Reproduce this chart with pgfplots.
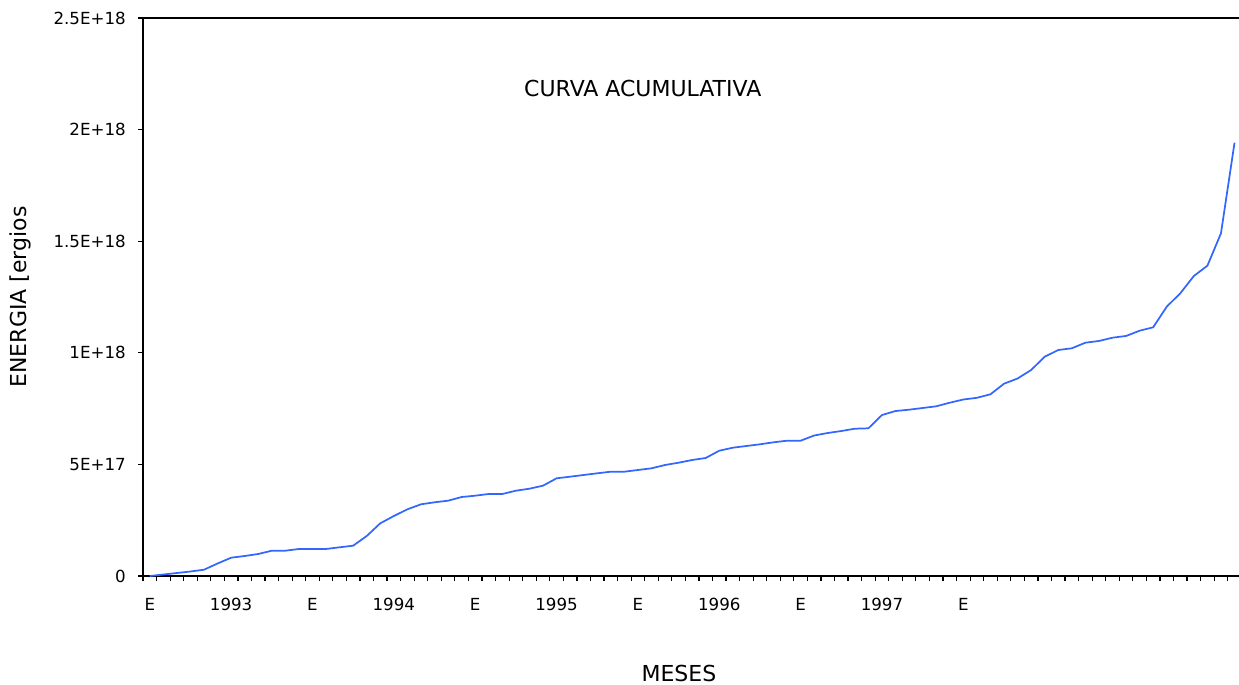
\documentclass[border=0pt]{standalone}
\usepackage{pgfplots}
\pgfplotsset{compat=1.18}
\usepackage{pgfplotstable}
\usepackage{fontspec}
\setmainfont{DejaVu Sans}
\definecolor{curve}{RGB}{51,102,255}
% energy in units of 1E+17 ergios, one value per month
\pgfplotstableread{
i v
0 0
1 0.067
2 0.134
3 0.202
4 0.282
5 0.560
6 0.820
7 0.896
8 0.986
9 1.134
10 1.134
11 1.210
12 1.210
13 1.210
14 1.286
15 1.358
16 1.792
17 2.361
18 2.688
19 2.988
20 3.212
21 3.302
22 3.374
23 3.539
24 3.598
25 3.674
26 3.674
27 3.822
28 3.911
29 4.046
30 4.377
31 4.449
32 4.525
33 4.601
34 4.673
35 4.673
36 4.749
37 4.825
38 4.973
39 5.076
40 5.197
41 5.287
42 5.614
43 5.748
44 5.824
45 5.901
46 5.990
47 6.062
48 6.062
49 6.295
50 6.407
51 6.496
52 6.599
53 6.617
54 7.213
55 7.392
56 7.451
57 7.527
58 7.603
59 7.764
60 7.908
61 7.984
62 8.141
63 8.616
64 8.849
65 9.229
66 9.825
67 10.125
68 10.202
69 10.453
70 10.529
71 10.677
72 10.753
73 10.990
74 11.142
75 12.066
76 12.666
77 13.441
78 13.903
79 15.354
80 19.413
}\datatable
\begin{document}
\begin{tikzpicture}
\useasboundingbox (-107.25pt,-81.75pt) rectangle (822pt,432pt);
\begin{axis}[
  at={(0,0)}, anchor=south west, scale only axis,
  width=822pt, height=418.5pt,
  xmin=-0.5, xmax=80.33, ymin=0, ymax=25,
  axis lines*=left,
  axis line style={line width=1.2pt},
  tick align=outside,
  tick style={line width=0.9pt, black},
  xtick={-0.5,0.5,...,80.5},
  xticklabels={},
  major tick length=3.4pt,
  extra x ticks={0,6,12,18,24,30,36,42,48,54,60},
  extra x tick labels={E,1993,E,1994,E,1995,E,1996,E,1997,E},
  extra x tick style={major tick length=0pt, xticklabel style={yshift=-13pt}},
  ytick={0,5,10,15,20,25},
  yticklabels={0,5E+17,1E+18,1.5E+18,2E+18,2.5E+18},
  yticklabel style={xshift=-6pt},
  tick label style={font=\fontsize{12.5}{14}\selectfont},
  xlabel={MESES},
  ylabel={ENERGIA [ergios},
  every axis x label/.style={at={(rel axis cs:0.489,0)}, anchor=center, yshift=-72.75pt, font=\fontsize{16.5}{18}\selectfont},
  every axis y label/.style={at={(rel axis cs:0,0.5)}, anchor=center, rotate=90, yshift=92.25pt, font=\fontsize{16.5}{18}\selectfont},
  clip=false,
]
\addplot[curve, line width=1.3pt, mark=none] table[x=i, y=v] {\datatable};
\draw[line width=1.2pt] (rel axis cs:0,1) -- (rel axis cs:1,1);
\node[font=\fontsize{16.5}{18}\selectfont] at (rel axis cs:0.456,0.873) {CURVA ACUMULATIVA};
\end{axis}
\end{tikzpicture}
\end{document}
